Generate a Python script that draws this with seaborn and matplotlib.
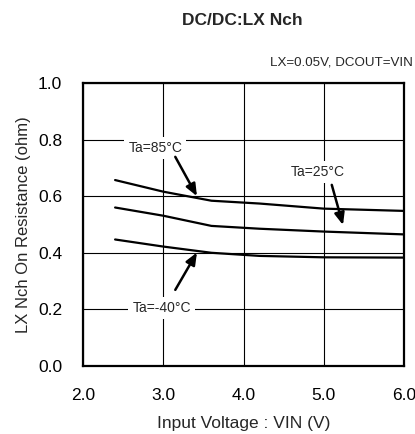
import numpy as np
import pandas as pd
import matplotlib
matplotlib.use("Agg")
import matplotlib.pyplot as plt
import seaborn as sns

# data
vin = [2.4, 3.0, 3.6, 4.2, 5.0, 6.0]
r_85 = [0.657, 0.616, 0.584, 0.574, 0.556, 0.548]
r_25 = [0.560, 0.531, 0.495, 0.485, 0.475, 0.465]
r_m40 = [0.447, 0.422, 0.400, 0.389, 0.384, 0.383]
temps = ["Ta=85°C", "Ta=25°C", "Ta=-40°C"]

df = pd.DataFrame({
    "vin": vin * 3,
    "r": r_85 + r_25 + r_m40,
    "ta": [t for t in temps for _ in vin],
})

sns.set_theme(style="white")
plt.rcParams["font.family"] = ["Liberation Sans", "DejaVu Sans"]

fig = plt.figure(figsize=(4.15, 4.34), dpi=100)
ax = fig.add_axes([0.2, 0.1567, 0.7735, 0.6521])

sns.lineplot(data=df, x="vin", y="r", hue="ta", palette=["black"] * 3,
             linewidth=1.6, legend=False, ax=ax, zorder=3)

ax.set_xlim(2.0, 6.0)
ax.set_ylim(0.0, 1.0)
ax.set_xticks(np.arange(2.0, 6.01, 1.0))
ax.set_yticks(np.arange(0.0, 1.01, 0.2))
ax.set_xticklabels([f"{v:.1f}" for v in np.arange(2.0, 6.01, 1.0)])
ax.set_yticklabels([f"{v:.1f}" for v in np.arange(0.0, 1.01, 0.2)])
ax.grid(True, color="black", linewidth=0.8)
ax.tick_params(length=0, labelsize=12.5, colors="black")
ax.tick_params(axis="y", pad=15)
ax.tick_params(axis="x", pad=16)
for s in ax.spines.values():
    s.set_color("black")
    s.set_linewidth(1.6)
    s.set_zorder(4)

ax.set_xlabel("Input Voltage : VIN (V)", fontsize=12.5, labelpad=9)
ax.set_ylabel("LX Nch On Resistance (ohm)", fontsize=12, labelpad=5)

fig.text(0.585, 0.953, "DC/DC:LX Nch", ha="center", va="center",
         fontsize=12.5, fontweight="bold")
fig.text(0.995, 0.857, "LX=0.05V, DCOUT=VIN", ha="right", va="center",
         fontsize=9.6)

# annotations: label position, arrow tail, arrow head
notes = [
    ("Ta=85°C", (2.90, 0.770), (3.15, 0.739), (3.42, 0.600)),
    ("Ta=25°C", (4.93, 0.686), (5.10, 0.640), (5.24, 0.498)),
    ("Ta=-40°C", (2.98, 0.205), (3.15, 0.269), (3.42, 0.401)),
]
for label, txt, tail, head in notes:
    ax.text(txt[0], txt[1], label, ha="center", va="center", fontsize=10,
            zorder=5, bbox=dict(facecolor="white", edgecolor="none", pad=3))
    ax.annotate("", xy=head, xytext=tail, zorder=5,
                arrowprops=dict(arrowstyle="-|>,head_length=0.6,head_width=0.25",
                                color="black", lw=1.8, shrinkA=0, shrinkB=0))

fig.savefig("out.png", dpi=100)
